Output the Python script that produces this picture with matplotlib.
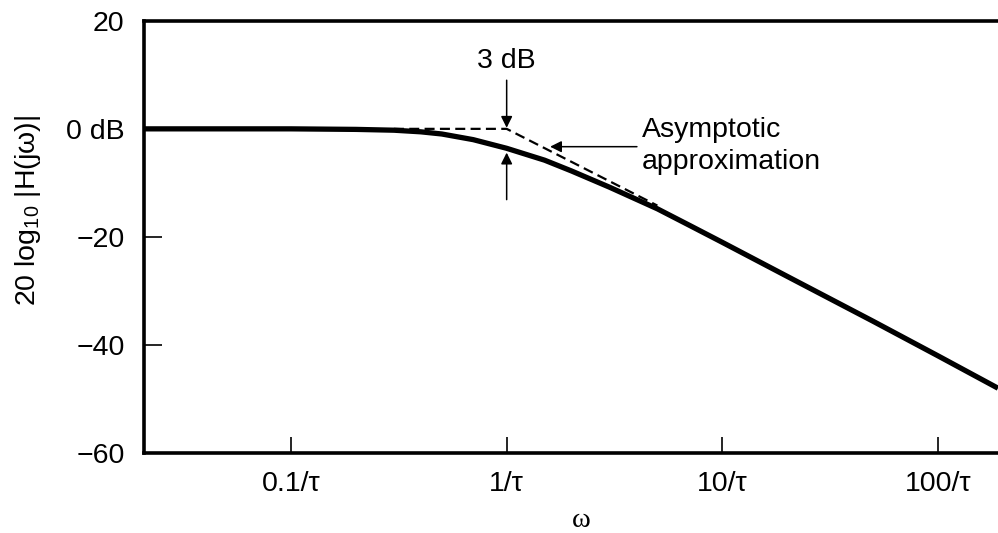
import numpy as np
from matplotlib import pyplot as plt

plt.rcParams['font.family'] = ['Liberation Sans', 'DejaVu Sans']
plt.rcParams['mathtext.fontset'] = 'custom'
plt.rcParams['mathtext.rm'] = 'Liberation Sans'

# respuesta en magnitud (omega en unidades de 1/tau)
w = [0.0208, 0.05, 0.1, 0.2, 0.3, 0.4, 0.5, 0.7, 1.0, 1.5, 2.0, 3.0, 5.0,
     7.0, 10.0, 20.0, 50.0, 100.0, 190.0]
mag_db = [0.0, 0.0, 0.0, -0.1, -0.25, -0.55, -0.95, -2.0, -3.6, -5.8, -7.8,
          -10.8, -14.8, -17.8, -21.0, -27.3, -35.6, -42.0, -48.0]

# aproximacion asintotica (tramo visible en punteado)
w_asym = [0.3, 1.0, 5.0]
db_asym = [0.0, 0.0, -14.2]

xticks = [0.1, 1, 10, 100]
xtick_labels = ['0.1/τ', '1/τ', '10/τ', '100/τ']
yticks = [20, 0, -20, -40, -60]
ytick_labels = ['20', '0 dB', '\u221220', '\u221240', '\u221260']

fig = plt.figure(figsize=(9.98, 5.33), dpi=100)
ax = fig.add_axes([0.1443, 0.150, 0.8557, 0.811])

ax.plot(w_asym, db_asym, color='black', lw=1.6, ls=(0, (4.5, 2.4)), zorder=2)
ax.plot(w, mag_db, color='black', lw=3.8, solid_capstyle='butt',
        solid_joinstyle='round', zorder=3)

ax.set_xscale('log')
ax.set_xlim(0.0208, 190)
ax.set_ylim(-60, 20)

ax.set_xticks(xticks)
ax.set_xticklabels(xtick_labels)
ax.xaxis.set_minor_locator(plt.NullLocator())
ax.set_yticks(yticks)
ax.set_yticklabels(ytick_labels)

ax.tick_params(axis='x', direction='in', length=11.5, width=1.2, pad=13, labelsize=20.5)
ax.tick_params(axis='y', direction='in', length=13, width=1.2, pad=14, labelsize=20.5)

for s in ['left', 'bottom', 'top']:
    ax.spines[s].set_linewidth(2.6)
ax.spines['right'].set_visible(False)

ax.set_xlabel('ω', fontsize=20.5, family=['Liberation Serif', 'DejaVu Serif'])
ax.xaxis.label.set_va('center')
ax.xaxis.set_label_coords(0.512, -0.155)
ax.set_ylabel('20 log$_{10}$ |H(jω)|', fontsize=20.5)
ax.yaxis.label.set_va('center')
ax.yaxis.set_label_coords(-0.136, 0.562)

# anotaciones
arrow = dict(arrowstyle='-|>', color='black', lw=1.1, mutation_scale=17,
             shrinkA=0, shrinkB=0)
ax.text(1.0, 12.6, '3 dB', ha='center', va='center', fontsize=20.5)
ax.annotate('', xy=(1.0, 0.2), xytext=(1.0, 9.0), arrowprops=arrow)
ax.annotate('', xy=(1.0, -4.4), xytext=(1.0, -13.1), arrowprops=arrow)

ax.text(4.24, -3.2, 'Asymptotic\napproximation', ha='left', va='center',
        fontsize=20.5, linespacing=1.3)
ax.annotate('', xy=(1.59, -3.3), xytext=(4.02, -3.3), arrowprops=arrow)

fig.savefig('out.png', dpi=100)
